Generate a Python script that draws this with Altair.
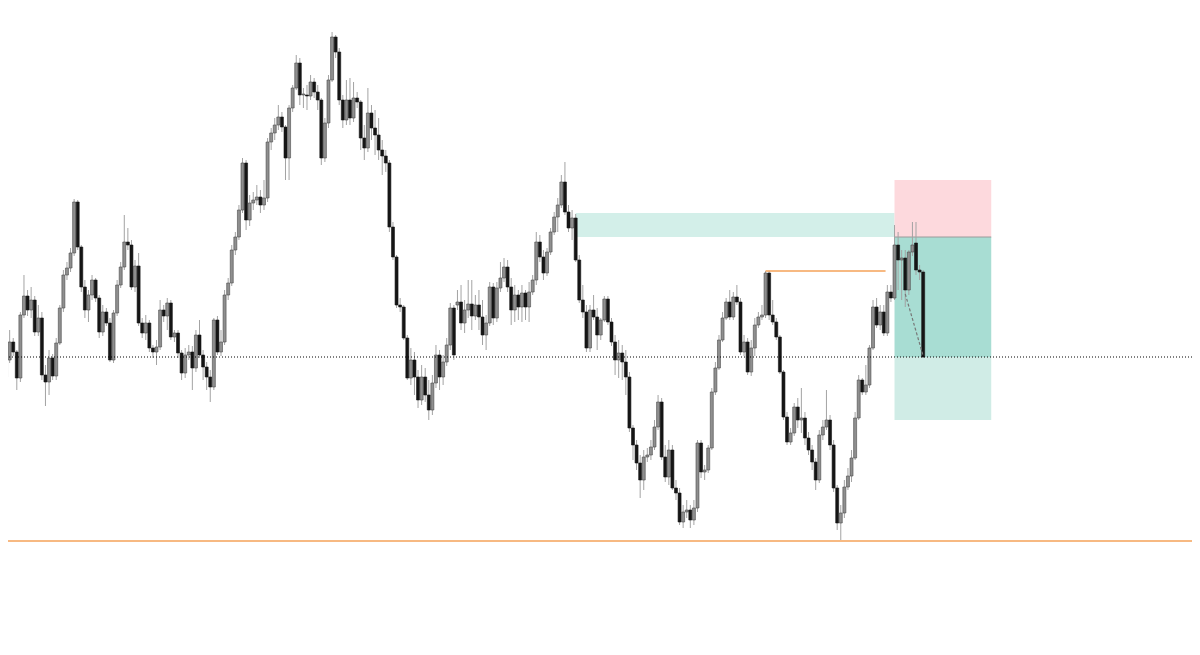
import altair as alt
import pandas as pd

# Candle OHLC values (price units), one entry per candle, left to right
opens = [
    623,640,658,648,622,685,704,690,700,668,
    682,625,618,642,624,657,692,725,732,747,
    798,753,713,690,705,720,702,668,688,677,
    640,687,715,733,758,755,713,734,677,667,
    677,652,648,653,690,684,697,663,667,647,
    627,645,648,632,665,645,633,623,613,680,
    648,658,705,717,750,763,790,837,780,797,
    800,803,795,802,858,867,875,883,873,842,
    892,912,937,905,905,904,918,908,900,842,
    877,920,963,948,900,880,900,882,902,898,
    862,852,887,872,865,850,844,837,773,743,
    695,693,662,622,640,623,600,623,605,590,
    617,645,623,638,655,692,695,698,677,690,
    696,684,695,683,665,677,713,682,712,722,
    733,713,690,705,693,707,693,708,720,758,
    743,727,748,768,783,795,818,788,772,782,
    740,700,688,652,690,683,665,680,701,678,
    658,640,647,638,623,572,555,537,520,543,
    545,553,573,598,543,523,550,512,507,478,
    488,490,480,492,557,528,530,552,608,632,
    660,682,698,683,703,698,648,658,628,652,
    675,683,685,727,685,678,663,628,583,558,
    567,593,580,582,562,550,538,520,565,573,
    580,555,512,477,487,513,524,542,582,620,
    608,615,652,693,675,688,667,708,702,755,
    740,742,710,748,757,730,728,
]
closes = [
    640,658,648,622,685,704,690,700,668,682,
    625,618,642,624,657,692,725,732,747,798,
    753,713,690,705,720,702,668,688,677,640,
    687,715,733,758,755,713,734,677,667,677,
    652,648,653,690,684,697,663,667,647,627,
    645,648,632,665,645,633,623,613,680,648,
    658,705,717,750,763,790,837,780,797,800,
    803,795,802,858,867,875,883,873,842,892,
    912,937,905,906,904,918,908,900,842,877,
    920,963,948,900,880,900,882,902,898,862,
    852,887,872,865,850,844,837,773,743,695,
    693,662,622,640,623,600,623,605,590,617,
    645,623,638,655,692,645,698,677,690,696,
    684,695,683,665,677,713,682,712,722,733,
    713,690,705,693,707,693,708,720,758,743,
    727,748,768,783,795,818,788,772,782,740,
    700,688,652,690,683,665,680,701,678,658,
    640,647,638,623,572,555,537,520,543,545,
    553,573,598,543,523,550,512,507,478,488,
    490,480,492,557,528,530,552,608,632,660,
    682,698,683,703,698,648,658,628,652,675,
    683,685,727,685,678,663,628,583,558,567,
    593,580,582,562,550,538,520,565,573,580,
    555,512,477,487,513,524,542,582,620,608,
    615,652,693,675,688,667,708,702,755,740,
    742,710,748,755,730,728,643,
]
highs = [
    648,670,662,650,688,725,710,713,704,695,
    688,635,650,646,662,695,730,738,752,801,
    800,755,720,710,725,722,705,695,692,682,
    690,720,738,785,772,760,740,747,682,685,
    680,655,660,700,695,702,700,670,670,650,
    652,655,654,670,680,650,638,630,682,684,
    670,710,722,755,768,795,842,840,805,808,
    815,810,820,862,872,882,895,888,875,895,
    915,945,942,912,915,925,922,915,902,882,
    925,968,965,952,905,920,922,918,908,900,
    875,912,895,890,882,860,850,840,778,745,
    702,695,665,652,648,630,635,632,620,625,
    655,650,645,662,697,695,710,715,700,720,
    720,705,710,700,685,718,717,718,738,742,
    740,722,715,710,715,710,718,725,768,765,
    750,752,772,788,802,825,838,795,790,786,
    745,715,695,695,705,692,682,704,704,682,
    665,660,655,650,628,575,560,545,550,552,
    560,580,605,602,555,560,555,520,512,495,
    500,495,500,560,560,535,555,612,638,665,
    688,702,710,708,715,702,665,662,660,682,
    688,695,729,729,700,682,665,630,588,572,
    597,602,612,588,568,555,542,570,580,610,
    585,560,515,495,520,532,550,588,625,622,
    635,655,700,702,695,695,715,715,775,768,
    750,750,750,778,778,735,730,
]
lows = [
    615,637,644,610,618,682,684,682,664,664,
    620,594,605,620,620,655,688,720,728,744,
    750,708,682,678,700,698,662,664,674,638,
    637,684,712,730,750,710,708,674,662,660,
    648,642,635,650,678,670,660,658,642,620,
    622,640,610,628,642,620,610,598,610,645,
    644,655,700,714,745,760,787,770,774,790,
    795,787,790,798,850,860,870,868,820,820,
    888,910,895,892,890,900,902,890,835,838,
    872,918,942,895,872,875,875,878,892,850,
    840,848,860,845,840,825,828,768,740,692,
    688,660,620,615,605,592,595,598,580,585,
    612,610,615,634,650,640,690,670,667,682,
    670,680,670,655,650,674,675,678,708,718,
    708,675,678,680,678,680,678,705,715,738,
    720,724,745,765,768,792,785,768,760,738,
    697,682,648,648,680,650,660,678,675,654,
    625,622,620,605,568,540,530,502,510,538,
    540,550,570,540,518,515,510,500,475,472,
    482,472,475,488,522,520,527,550,605,630,
    658,680,680,680,695,645,644,625,624,644,
    672,680,682,680,675,660,626,580,555,555,
    564,572,567,555,545,530,510,517,560,570,
    550,508,470,460,482,510,518,540,580,605,
    605,612,650,672,670,664,664,698,700,710,
    700,693,705,744,725,720,642,
]

# Zones (candle-index span and price span)
zone_x0 = [159, 248, 248, 248]
zone_x1 = [248, 275, 275, 275]
zone_lo = [763, 763, 643, 580]
zone_hi = [787, 820, 763, 643]
zone_fill = ["#d3efe9", "#fdd9dd", "#a8ddd3", "#d0ece6"]

entry_level = 643      # dotted line
support_level = 459    # orange full-width line
swing_level = 729      # short orange line
swing_span = [212, 245.5]
proj_x = [251, 256]
proj_y = [706, 644]
box_mid_level = 763
box_span = [248, 275]

n = min(len(opens), len(closes), len(highs), len(lows))
df = pd.DataFrame({
    "i": list(range(n)),
    "open": opens[:n],
    "close": closes[:n],
    "high": highs[:n],
    "low": lows[:n],
})
df["dir"] = ["up" if c >= o else "down" for o, c in zip(df["open"], df["close"])]

W = 1184
xs = alt.Scale(domain=[1.937, 1.937 + W / 3.613], nice=False, zero=False)
ys = alt.Scale(domain=[337, 992], nice=False, zero=False)

zones = pd.DataFrame({"x0": zone_x0, "x1": zone_x1, "lo": zone_lo, "hi": zone_hi, "fill": zone_fill})
zone_layer = alt.Chart(zones).mark_rect().encode(
    x=alt.X("x0:Q", scale=xs, axis=None),
    x2="x1:Q",
    y=alt.Y("lo:Q", scale=ys, axis=None),
    y2="hi:Q",
    color=alt.Color("fill:N", scale=None, legend=None),
)

base = alt.Chart(df)
wicks = base.mark_rule(color="#a3a3a3", strokeWidth=1).encode(
    x=alt.X("i:Q", scale=xs, axis=None),
    y=alt.Y("low:Q", scale=ys, axis=None),
    y2="high:Q",
)
bodies = base.mark_bar(size=3, strokeWidth=0.6).encode(
    x=alt.X("i:Q", scale=xs, axis=None),
    y=alt.Y("open:Q", scale=ys, axis=None),
    y2="close:Q",
    fill=alt.Fill("dir:N", scale=alt.Scale(domain=["up", "down"], range=["#8f8f8f", "#151515"]), legend=None),
    stroke=alt.Stroke("dir:N", scale=alt.Scale(domain=["up", "down"], range=["#4a4a4a", "#151515"]), legend=None),
)

swing_df = pd.DataFrame({"x0": [swing_span[0]], "x1": [swing_span[1]], "y": [swing_level]})
swing = alt.Chart(swing_df).mark_rule(color="#f4a259", strokeWidth=1.3).encode(
    x=alt.X("x0:Q", scale=xs, axis=None), x2="x1:Q",
    y=alt.Y("y:Q", scale=ys, axis=None),
)

mid_df = pd.DataFrame({"x0": [box_span[0]], "x1": [box_span[1]], "y": [box_mid_level]})
mid_line = alt.Chart(mid_df).mark_rule(color="#9a9a9a", strokeWidth=1).encode(
    x=alt.X("x0:Q", scale=xs, axis=None), x2="x1:Q",
    y=alt.Y("y:Q", scale=ys, axis=None),
)

proj_df = pd.DataFrame({"x0": [proj_x[0]], "x1": [proj_x[1]], "y0": [proj_y[0]], "y1": [proj_y[1]]})
proj = alt.Chart(proj_df).mark_rule(color="#777777", strokeWidth=1.2, strokeDash=[3, 2]).encode(
    x=alt.X("x0:Q", scale=xs, axis=None), x2="x1:Q",
    y=alt.Y("y0:Q", scale=ys, axis=None), y2="y1:Q",
)

entry_df = pd.DataFrame({"y": [entry_level]})
entry = alt.Chart(entry_df).mark_rule(color="#000000", strokeWidth=1, strokeDash=[1, 2]).encode(
    y=alt.Y("y:Q", scale=ys, axis=None),
)
support_df = pd.DataFrame({"y": [support_level]})
support = alt.Chart(support_df).mark_rule(color="#f4a259", strokeWidth=1.3).encode(
    y=alt.Y("y:Q", scale=ys, axis=None),
)

chart = alt.layer(
    zone_layer, mid_line, wicks, bodies, swing, proj, entry, support
).properties(
    width=W, height=655, padding=0,
    autosize=alt.AutoSizeParams(type="none"),
    background="white",
).configure_view(stroke=None)

chart.save("out.html", embed_options={"renderer": "svg", "actions": False})
